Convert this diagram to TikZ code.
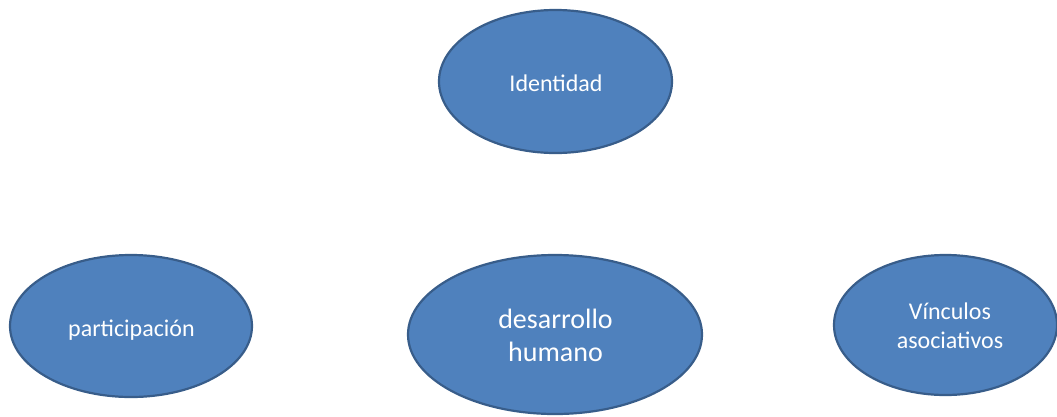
\documentclass[tikz,border=0pt]{standalone}
\usepackage{fontspec}
\setmainfont{Carlito}
\usetikzlibrary{shapes.geometric}
\definecolor{ovalfill}{HTML}{4F81BD}
\definecolor{ovaldraw}{HTML}{385D8A}
\begin{document}
\begin{tikzpicture}[x=1pt,y=-1pt,
  oval/.style={ellipse, draw=ovaldraw, fill=ovalfill, line width=2.2pt, inner sep=0pt},
  label24/.style={text=white, align=center, inner sep=0pt, font=\fontsize{24}{29}\selectfont},
  label28/.style={text=white, align=center, inner sep=0pt, font=\fontsize{28}{33}\selectfont}]
\useasboundingbox (0,0) rectangle (1057,416);
\node[oval, minimum width=233pt, minimum height=143pt] (ident) at (555.5,81.5) {};
\node[label24, anchor=base] (identt) at (556,91) {Identidad};
\node[oval, minimum width=242pt, minimum height=142pt] (part) at (131,326) {};
\node[label24, anchor=base] (partt) at (131.5,336) {participación};
\node[oval, minimum width=294pt, minimum height=159pt] (desa) at (555,334.5) {};
\node[label28] (desat) at (555.5,335.8) {desarrollo\\humano};
\node[oval, minimum width=223pt, minimum height=140pt] (vinc) at (945.5,325) {};
\node[label24] (vinct) at (950,326) {Vínculos\\asociativos};
\end{tikzpicture}
\end{document}
